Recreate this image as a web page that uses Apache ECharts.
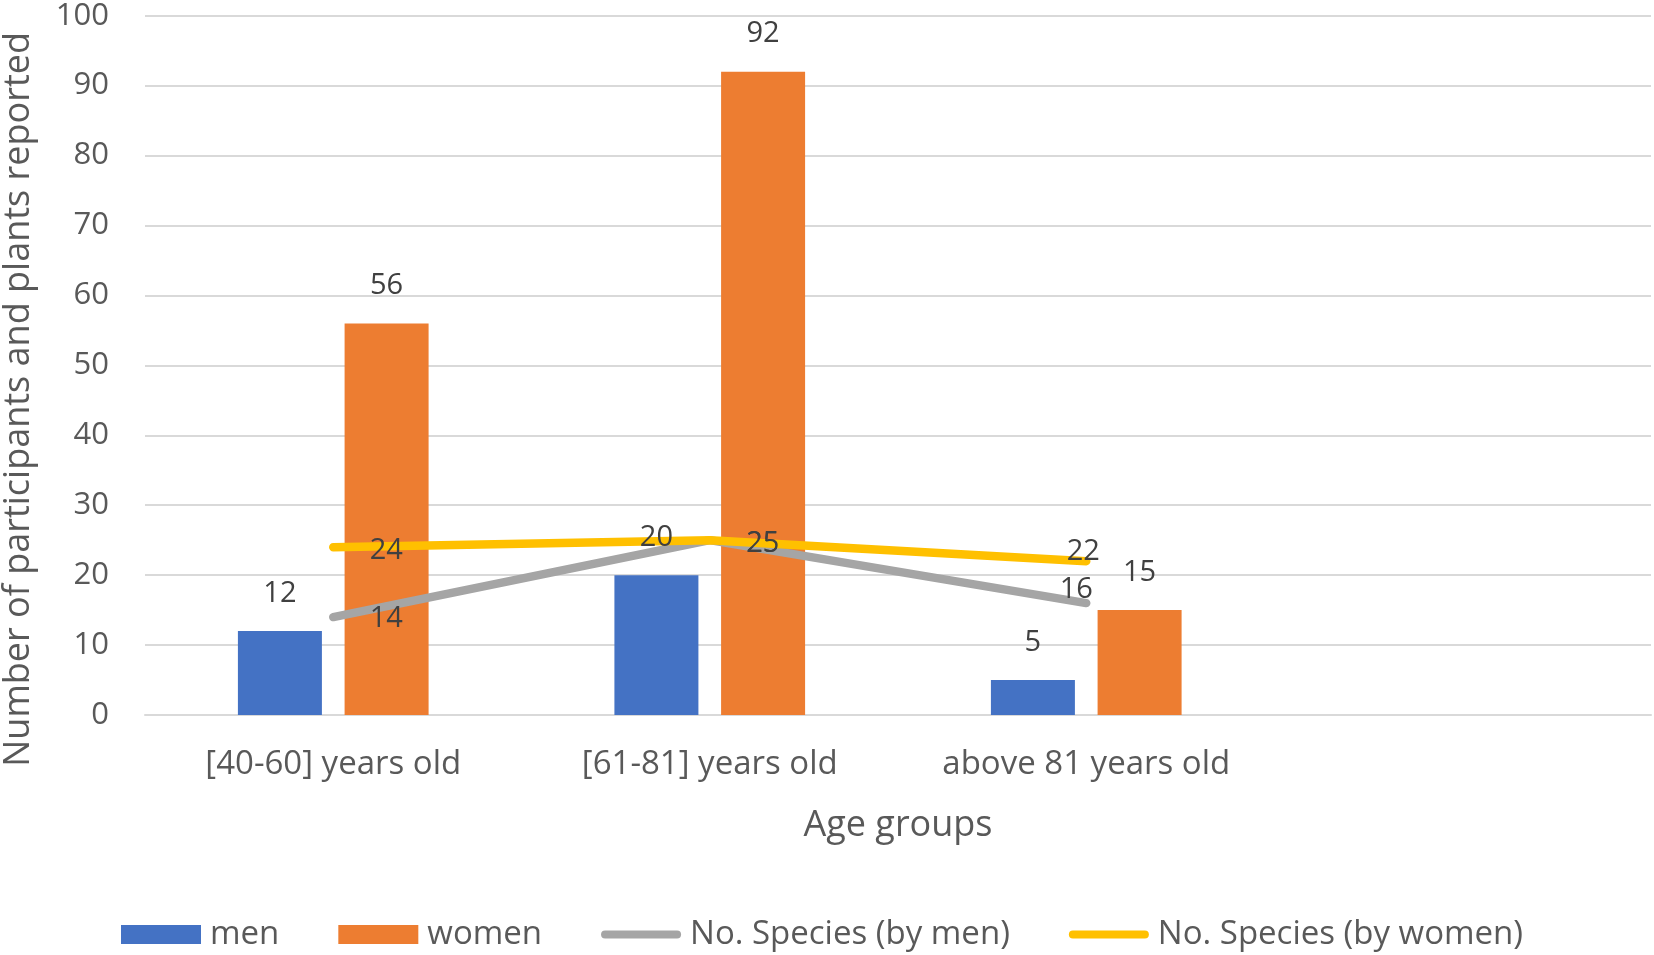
<!DOCTYPE html>
<html>
<head>
<meta charset="utf-8">
<script src="https://cdn.jsdelivr.net/npm/echarts@6/dist/echarts.min.js"></script>
<style>
html,body{margin:0;padding:0;background:#fff;}
#main{width:1654px;height:955px;}
</style>
</head>
<body>
<div id="main"></div>
<script>
// ---- data ----
const categories = ['[40-60] years old', '[61-81] years old', 'above 81 years old', ''];
const menValues = [12, 20, 5];
const womenValues = [56, 92, 15];
const speciesByMen = [14, 25, 16];
const speciesByWomen = [24, 25, 22];
const yTicks = [0, 10, 20, 30, 40, 50, 60, 70, 80, 90, 100];
const yTitle = 'Number of participants and plants reported';
const xTitle = 'Age groups';
const seriesNames = ['men', 'women', 'No. Species (by men)', 'No. Species (by women)'];

// ---- label placement (style, not data) ----
const menLineLabelOffsets = [[53, 2], [53, 4], [-10, -13]];
const womenLineLabelOffsets = [[53, 4], [53, 4], [-3, -9]];

const FONT = 'Open Sans';
const labelStyle = { color: '#404040', fontFamily: FONT, fontSize: 29 };
const lineIcon = 'path://M4,0 L76,0 A4,4 0 0 1 76,8 L4,8 A4,4 0 0 1 4,0 Z';

function lineData(values, offsets) {
  return values.map((v, i) => ({
    value: v,
    label: { show: true, position: 'inside', offset: offsets[i], ...labelStyle }
  }));
}

// invisible copy of the bars on an overlay axis, only to draw bar labels above the lines
function labelBars(name, values) {
  return {
    name: name + '-label', type: 'bar', data: values, xAxisIndex: 1, z: 10, silent: true,
    barWidth: 84, barGap: '27%',
    itemStyle: { color: 'rgba(0,0,0,0)' },
    label: { show: true, position: 'top', distance: 23, ...labelStyle }
  };
}

const chart = echarts.init(document.getElementById('main'), null, { renderer: 'canvas' });
chart.setOption({
  animation: false,
  backgroundColor: '#ffffff',
  grid: { left: 145, right: 3, top: 15.7, bottom: 240, containLabel: false },
  xAxis: [{
    type: 'category',
    data: categories,
    axisLine: { show: true, lineStyle: { color: '#D9D9D9', width: 2 } },
    axisTick: { show: false },
    axisLabel: { color: '#595959', fontFamily: FONT, fontSize: 33, margin: 33, interval: 0 },
    name: xTitle,
    nameLocation: 'middle',
    nameGap: 93,
    nameTextStyle: { color: '#595959', fontFamily: FONT, fontSize: 36 }
  }, {
    type: 'category',
    data: categories,
    position: 'bottom',
    show: false
  }],
  yAxis: {
    type: 'value',
    min: yTicks[0],
    max: yTicks[yTicks.length - 1],
    interval: yTicks[1] - yTicks[0],
    axisLine: { show: false },
    axisTick: { show: false },
    axisLabel: { color: '#595959', fontFamily: FONT, fontSize: 31, margin: 36 },
    splitLine: { lineStyle: { color: '#D9D9D9', width: 2 } }
  },
  legend: {
    left: 121,
    top: 918,
    padding: 0,
    itemGap: 59,
    itemWidth: 80,
    itemHeight: 19,
    textStyle: { color: '#595959', fontFamily: FONT, fontSize: 33, padding: [0, 0, 0, 4] },
    data: [
      { name: seriesNames[0], icon: 'rect' },
      { name: seriesNames[1], icon: 'rect' },
      { name: seriesNames[2], icon: lineIcon, itemStyle: { color: '#A5A5A5' } },
      { name: seriesNames[3], icon: lineIcon, itemStyle: { color: '#FFC000' } }
    ]
  },
  graphic: [{
    type: 'text',
    left: 1,
    top: 32,
    rotation: Math.PI / 2,
    style: {
      text: yTitle,
      fill: '#595959',
      font: '36px "Open Sans"'
    }
  }],
  series: [
    {
      name: seriesNames[0], type: 'bar', data: menValues, z: 2,
      barWidth: 84, barGap: '27%',
      itemStyle: { color: '#4472C4' }
    },
    {
      name: seriesNames[1], type: 'bar', data: womenValues, z: 2,
      barWidth: 84, barGap: '27%',
      itemStyle: { color: '#ED7D31' }
    },
    {
      name: seriesNames[2], type: 'line', data: lineData(speciesByMen, menLineLabelOffsets),
      symbol: 'circle', symbolSize: 1, z: 3,
      itemStyle: { color: '#A5A5A5' },
      lineStyle: { color: '#A5A5A5', width: 8.5, cap: 'round', join: 'round' }
    },
    {
      name: seriesNames[3], type: 'line', data: lineData(speciesByWomen, womenLineLabelOffsets),
      symbol: 'circle', symbolSize: 1, z: 4,
      itemStyle: { color: '#FFC000' },
      lineStyle: { color: '#FFC000', width: 8.5, cap: 'round', join: 'round' }
    },
    labelBars(seriesNames[0], menValues),
    labelBars(seriesNames[1], womenValues)
  ]
});
</script>
</body>
</html>
